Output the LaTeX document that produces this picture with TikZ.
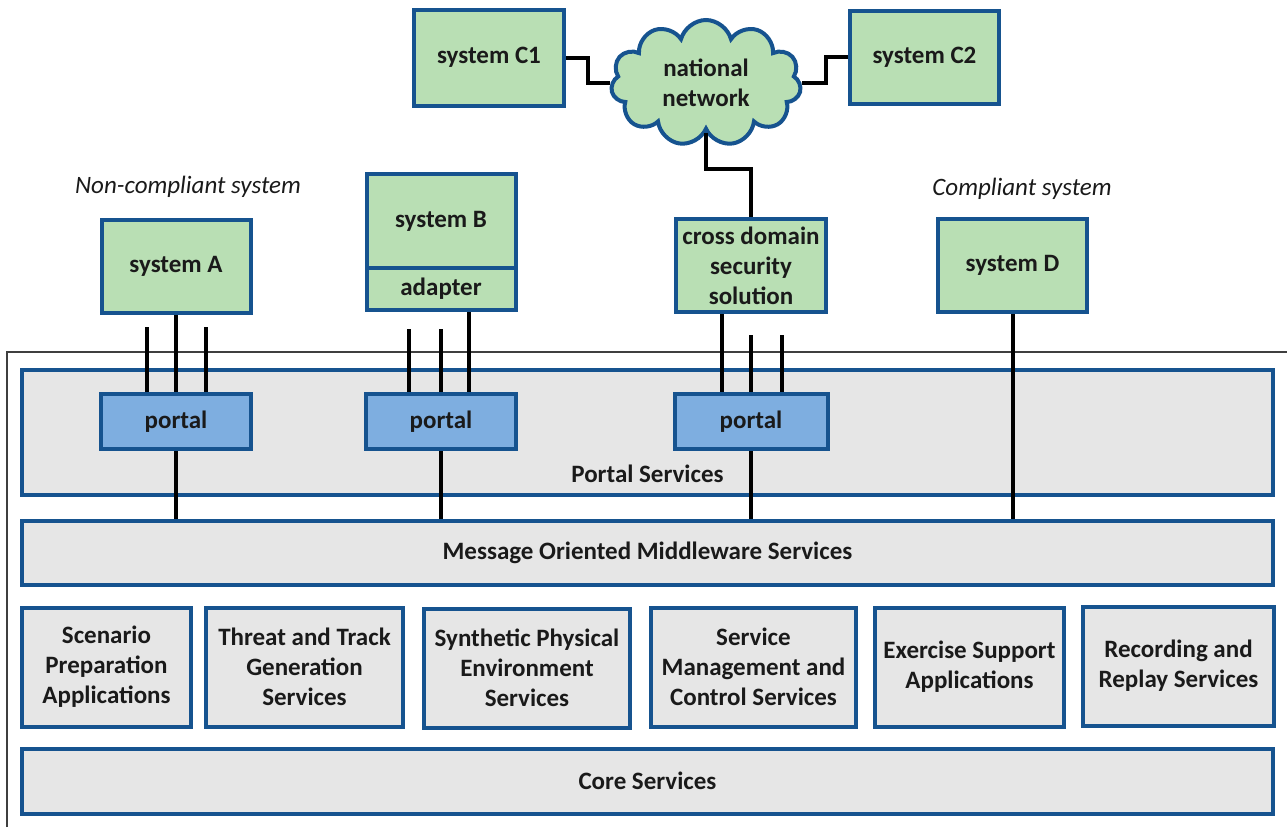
\documentclass[tikz,border=0pt]{standalone}
\usepackage{fontspec}
\setmainfont{Carlito}
\usetikzlibrary{positioning,shapes.symbols}
\definecolor{sysgreen}{HTML}{B9DFB4}
\definecolor{edgeblue}{HTML}{16538F}
\definecolor{portalblue}{HTML}{7EAEE0}
\definecolor{layergray}{HTML}{E6E6E6}
\definecolor{framegray}{HTML}{3F3F3F}
\definecolor{inkblack}{HTML}{1A1A1A}

\begin{document}
\begin{tikzpicture}[
  x=1pt, y=-1pt,
  font=\fontsize{25}{30}\selectfont\bfseries,
  text=inkblack,
  sysbox/.style={draw=edgeblue, line width=4pt, fill=sysgreen, align=center, inner sep=0pt},
  portalbox/.style={draw=edgeblue, line width=4pt, fill=portalblue, minimum width=150, minimum height=55, inner sep=0pt},
  layer/.style={draw=edgeblue, line width=4pt, fill=layergray, minimum width=1251, inner sep=0pt},
  svcbox/.style={draw=edgeblue, line width=4pt, fill=layergray, align=center, minimum height=119, inner sep=0pt},
  note/.style={font=\fontsize{25}{30}\selectfont\itshape},
  link/.style={line width=4pt, draw=black},
  frame/.style={line width=1.5pt, draw=framegray}
]
\useasboundingbox (0,0) rectangle (1287,827);
\draw[frame] (7,827) |- (1287,352);

% service layers
\node[layer, minimum height=125] (portalsvc) at (647.5,432.5) {};
\node (portalsvctext) at (647.5,474) {Portal Services};
\node[layer, minimum height=64] (mom) at (647.5,553) {Message Oriented Middleware Services};
\node[svcbox, minimum width=169] (scen) at (106.5,667) {Scenario\\Preparation\\Applications};
\node[svcbox, minimum width=197] (threat) at (304.5,667) {Threat and Track\\Generation\\Services};
\node[svcbox, minimum width=206] (synth) at (527,668) {Synthetic Physical\\Environment\\Services};
\node[svcbox, minimum width=205] (svcmgmt) at (753.5,667) {Service\\Management and\\Control Services};
\node[svcbox, minimum width=189] (exsupp) at (969.5,667) {Exercise Support\\Applications};
\node[svcbox, minimum width=191] (recrep) at (1178.5,666) {Recording and\\Replay Services};
\node[layer, minimum height=65] (core) at (647.5,781) {Core Services};

% portals
\node[portalbox] (portalA) at (176,421.5) {portal};
\node[portalbox] (portalB) at (441,421.5) {portal};
\node[portalbox, minimum width=153] (portalC) at (751,421.5) {portal};

% systems
\node[sysbox, minimum width=149, minimum height=93] (sysA) at (176,266.5) {system A};
\node[sysbox, minimum width=149, minimum height=94, outer sep=0pt] (sysB) at (441,221) {system B};
\node[sysbox, minimum width=149, minimum height=42, outer sep=0pt, below=0pt of sysB] (adapter) {adapter};
\node[sysbox, minimum width=150, minimum height=93] (cds) at (751,265.5) {cross domain\\security\\solution};
\node[sysbox, minimum width=149, minimum height=93] (sysD) at (1012.5,265.5) {system D};
\node[sysbox, minimum width=150, minimum height=96] (sysC1) at (489,57.5) {system C1};
\node[sysbox, minimum width=149, minimum height=93] (sysC2) at (924.5,57) {system C2};
\node[cloud, cloud puffs=11, aspect=1.6, draw=edgeblue, line width=4pt, fill=sysgreen,
      minimum width=190, minimum height=126, inner sep=0pt, align=center] (natnet) at (706,83) {national\\network};

\node[note] (ncLabel) at (188,187) {Non-compliant system};
\node[note] (cLabel) at (1022,189) {Compliant system};

% connections
\draw[link] (sysC1.east) -- ++(22,0) |- (natnet.west);
\draw[link] (sysC2.west) -- ++(-22,0) |- (natnet.east);
\draw[link] (natnet.south) -- ++(0,36) -| (cds.north);

\draw[link] (sysA.south) -- (portalA.north);
\foreach \dx in {-29,30} \draw[link] ([xshift=\dx]portalA.north) -- ++(0,-65);
\draw[link] ([xshift=28,yshift=-2]adapter.south) -- ([xshift=28]portalB.north);
\foreach \dx in {-32,0} \draw[link] ([xshift=\dx]portalB.north) -- ++(0,-63);
\draw[link] ([xshift=-29]cds.south) -- ([xshift=-29]portalC.north);
\foreach \dx in {0,31} \draw[link] ([xshift=\dx]portalC.north) -- ++(0,-57);

\foreach \p in {portalA,portalB,portalC} \draw[link] (\p.south) -- (\p.south |- mom.north);
\draw[link] (sysD.south) -- (sysD.south |- mom.north);
\end{tikzpicture}
\end{document}
